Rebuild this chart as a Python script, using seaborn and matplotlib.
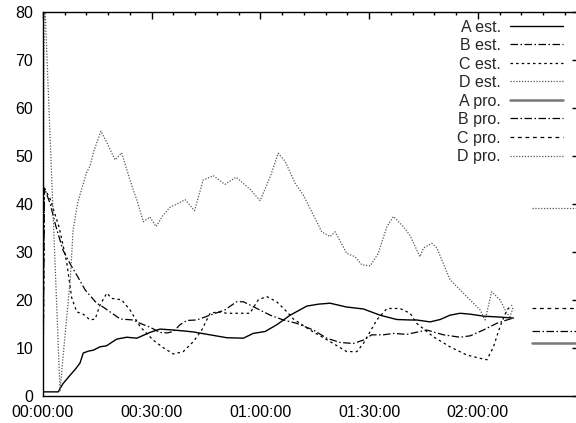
import matplotlib
matplotlib.use("Agg")
import matplotlib.pyplot as plt
import matplotlib.ticker as mticker
import seaborn as sns

# time in minutes since start
a_t = [0, 4.2, 5.5, 7.5, 9, 10.2, 11.1, 12.5, 13.9, 15.7, 17.5, 20.3, 23.1, 25.9, 29.5,
       32.3, 36, 39, 41.5, 46.1, 50.7, 55.3, 58, 61.3, 64.5, 68.2, 72.8, 76, 79.2, 83.8,
       88.4, 93, 97.6, 101.3, 103.1, 106.8, 109.6, 112.3, 115.1, 118, 121.5, 126.1, 129.8]
a_v = [0.8, 0.8, 2.5, 4.3, 5.6, 6.8, 8.9, 9.3, 9.5, 10.2, 10.4, 11.8, 12.2, 12.0, 13.2,
       13.9, 13.7, 13.5, 13.3, 12.7, 12.1, 12.0, 13.0, 13.4, 14.8, 16.8, 18.7, 19.1, 19.3, 18.5,
       18.1, 16.8, 15.9, 15.8, 15.8, 15.4, 15.9, 16.8, 17.2, 17.0, 16.6, 16.4, 16.2]

b_t = [0, 0.4, 2, 3.5, 5.5, 7.5, 9.3, 11.6, 14.8, 16.6, 18.5, 21.3, 24.9, 26.8, 29.5,
       32.3, 34.3, 36, 37.8, 39.7, 42.4, 46.1, 50.2, 53.4, 55.3, 59, 62.7, 66.3, 70, 74.6,
       78.3, 82, 85.6, 88.4, 90.7, 93.9, 96.7, 100.4, 105.9, 110.5, 115.1, 117.9, 121.5,
       125.2, 128, 129.8]
b_v = [1, 43.3, 40, 35.5, 30.4, 27.5, 25.2, 22.1, 19.3, 18.5, 17.5, 16.0, 15.8, 15.1, 14.3,
       13.2, 13.1, 13.4, 14.8, 15.7, 15.8, 16.8, 17.9, 19.6, 19.6, 18.2, 16.8, 15.8, 15.1, 13.7,
       12.0, 11.1, 10.9, 11.6, 12.7, 12.7, 13.0, 12.8, 13.7, 12.7, 12.2, 12.5, 13.7,
       15.1, 15.8, 16.2]

c_t = [0, 0.4, 2, 4.5, 6.5, 7.9, 9.3, 11.1, 13, 14.4, 15.7, 17.6, 19, 21.7, 24, 26.8,
       30.4, 33.2, 36, 38.7, 41.5, 43.8, 46.1, 48.4, 50.7, 53.4, 57.1, 59.4, 61.7, 64.5,
       67.7, 69.1, 73.7, 79.2, 83.8, 86.6, 88.4, 92.1, 94.9, 98.5, 101.3, 103.1, 107.7,
       112.3, 116.9, 120.6, 122.5, 124.3, 126.1, 128, 129.4]
c_v = [1, 43.3, 41, 35, 28, 20.5, 17.5, 17.0, 15.8, 16.0, 18.9, 21.4, 20.3, 20.0, 17.9, 14.4,
       11.6, 10.0, 8.7, 9.2, 11.3, 13.7, 17.2, 17.5, 17.2, 17.2, 17.2, 20.0, 20.7, 19.6,
       17.2, 16.0, 13.7, 11.3, 9.2, 9.2, 10.9, 15.8, 18.2, 18.2, 17.2, 15.1, 12.3,
       10.2, 8.5, 7.8, 7.5, 10.2, 14.4, 17.9, 18.9]

d_t = [0, 0.3, 4.7, 6, 7.5, 8.3, 9.5, 11, 12, 13, 14, 16, 17.5, 19.9, 21.7, 24, 25.9,
       27.7, 29.5, 31.2, 33, 35, 37, 39.2, 41.8, 44.2, 47, 50.2, 53.3, 57.1, 59.9, 62.7,
       64.9, 66.8, 69.6, 71.8, 74.6, 76.9, 79.2, 80.6, 83.8, 86.1, 88, 90.3, 92.5, 94.9,
       96.7, 99.4, 101.3, 104, 105, 107.3, 108.7, 112.3, 116.9, 120.6, 122, 123.8, 126.1,
       128, 128.9, 129.8]
d_v = [1, 86, 1, 12, 24, 34.5, 40, 44, 46.5, 48, 51, 55.2, 53, 49.2, 50.7, 45, 40.8,
       36.3, 37.3, 35.3, 37.5, 39.3, 40, 40.9, 38.6, 45, 45.9, 44.1, 45.6, 43.1, 40.7, 45.7,
       50.6, 48.9, 44.3, 41.9, 37.7, 34.2, 33.2, 34.2, 29.7, 29.0, 27.3, 27.1, 29.7, 35.3,
       37.4, 35.3, 33.4, 29.0, 30.8, 31.8, 30.8, 24.2, 20.7, 17.9, 15.8, 21.7, 20.0,
       17.2, 16.5, 18.6]

# flat values at the right edge
pro_t = [134.9, 160]
pro_a = [11.1, 11.1]
pro_b = [13.5, 13.5]
pro_c = [18.2, 18.2]
pro_d = [39.1, 39.1]

sns.set_style("white")
plt.rcParams['font.family'] = ['Liberation Sans', 'DejaVu Sans']

fig = plt.figure(figsize=(5.76, 4.23), dpi=100)
ax = fig.add_axes([43 / 576, 1 - 395.7 / 423, (579 - 43) / 576, (395.7 - 12.3) / 423])

dash_dot = (0, (6, 2, 1.2, 2))
dashed = (0, (3, 3))
dotted = (0, (1, 1.3))

sns.lineplot(x=a_t, y=a_v, ax=ax, color='black', lw=1, label='A est.', sort=False)
sns.lineplot(x=b_t, y=b_v, ax=ax, color='black', lw=0.9, linestyle=dash_dot, label='B est.', sort=False)
sns.lineplot(x=c_t, y=c_v, ax=ax, color='black', lw=0.9, linestyle=(0, (2, 2.5)), label='C est.', sort=False)
sns.lineplot(x=d_t, y=d_v, ax=ax, color='#555555', lw=0.9, linestyle=dotted, label='D est.', sort=False)
sns.lineplot(x=pro_t, y=pro_a, ax=ax, color='#777777', lw=1.8, label='A pro.', sort=False)
sns.lineplot(x=pro_t, y=pro_b, ax=ax, color='black', lw=0.9, linestyle=dash_dot, label='B pro.', sort=False)
sns.lineplot(x=pro_t, y=pro_c, ax=ax, color='black', lw=0.9, linestyle=dashed, label='C pro.', sort=False)
sns.lineplot(x=pro_t, y=pro_d, ax=ax, color='#555555', lw=0.9, linestyle=dotted, label='D pro.', sort=False)

ax.set_xlim(0, 147.9)
ax.set_ylim(0, 80)
ax.set_xlabel('')
ax.set_ylabel('')

ax.xaxis.set_major_locator(mticker.MultipleLocator(30))
ax.xaxis.set_minor_locator(mticker.MultipleLocator(6))
ax.yaxis.set_major_locator(mticker.MultipleLocator(10))
ax.xaxis.set_major_formatter(mticker.FuncFormatter(
    lambda m, p: '%02d:%02d:00' % (int(m) // 60, int(m) % 60)))
ax.tick_params(which='both', direction='in', top=True, right=True, colors='black',
               labelsize=11.5, width=1)
ax.tick_params(which='major', length=5)
ax.tick_params(which='minor', length=2.5)
ax.tick_params(axis='y', pad=7)
ax.tick_params(axis='x', pad=7)
for s in ax.spines.values():
    s.set_color('black')
    s.set_linewidth(1)
    s.set_visible(True)

leg = ax.legend(loc='upper right', bbox_to_anchor=(563 / 576, 1 - 19.5 / 423),
                bbox_transform=fig.transFigure, frameon=False, markerfirst=False,
                fontsize=11.5, handlelength=3.3, handletextpad=0.6, labelspacing=0.22,
                borderpad=0, borderaxespad=0)
for t in leg.get_texts():
    t.set_ha('right')

fig.savefig('out.png', dpi=100)
